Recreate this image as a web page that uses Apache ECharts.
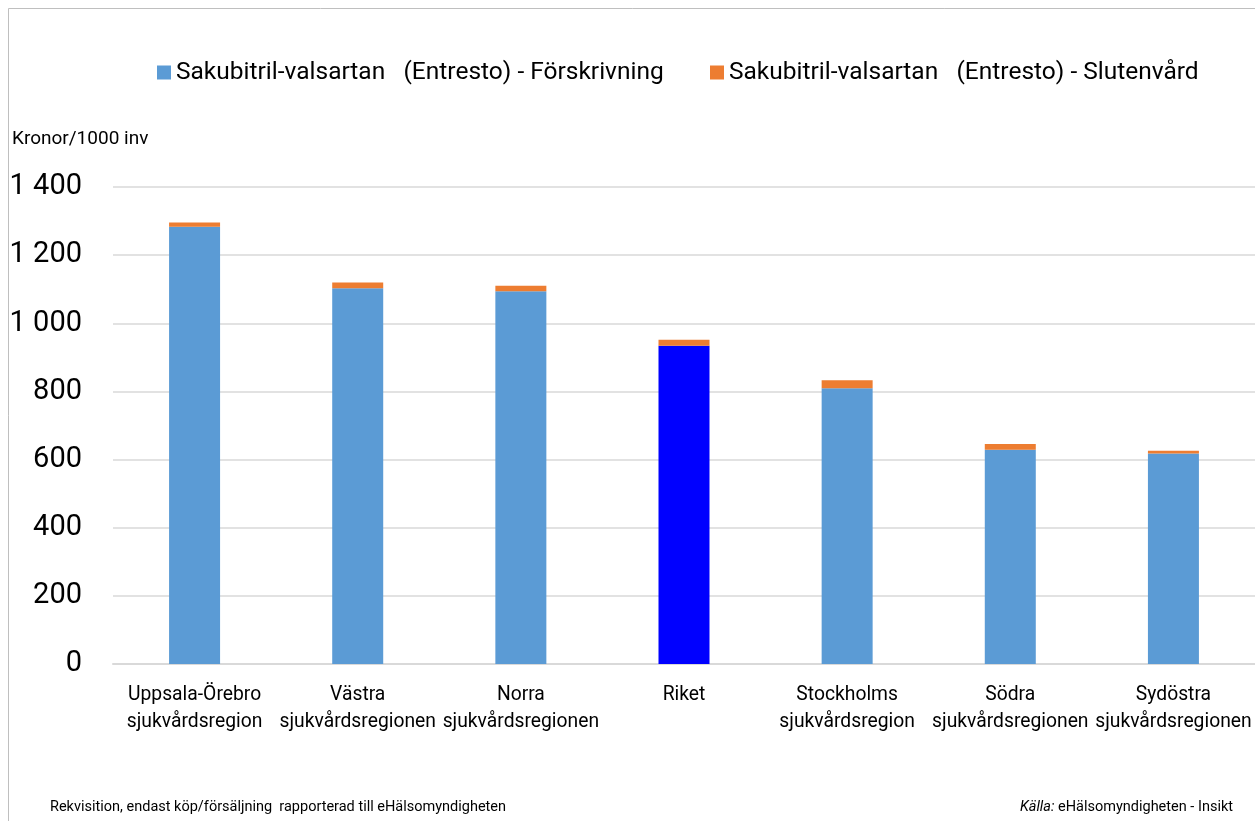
<!DOCTYPE html>
<html>
<head>
<meta charset="utf-8">
<script src="https://cdn.jsdelivr.net/npm/echarts@6/dist/echarts.min.js"></script>
<style>
  html, body { margin: 0; padding: 0; background: #fff; }
  #chart { width: 1255px; height: 821px; }
</style>
</head>
<body>
<div id="chart"></div>
<script>
const FONT = '"Roboto", sans-serif'

// regions (x-axis)
const categories = [
    'Uppsala-Örebro\nsjukvårdsregion',
    'Västra\nsjukvårdsregionen',
    'Norra\nsjukvårdsregionen',
    'Riket',
    'Stockholms\nsjukvårdsregion',
    'Södra\nsjukvårdsregionen',
    'Sydöstra\nsjukvårdsregionen'
]
// kronor / 1000 inv
const forskrivning = [1283, 1103, 1094, 934, 809, 629, 618]
const slutenvard = [13, 17, 16, 18, 24, 17, 8]
const yTicks = [0, 200, 400, 600, 800, 1000, 1200, 1400]

const seriesNames = [
    'Sakubitril-valsartan   (Entresto) - Förskrivning',
    'Sakubitril-valsartan   (Entresto) - Slutenvård'
]

function fmt(v){
    return String(v).replace(/\B(?=(\d{3})+(?!\d))/g, ' ')
}

const chart = echarts.init(document.getElementById('chart'))

let option = {
    animation: false,
    textStyle: { fontFamily: FONT },
    grid: { left: 113, right: 0, top: 187, bottom: 157 },
    legend: [
        {
            data: [seriesNames[0]],
            left: 152, top: 55,
            itemWidth: 14, itemHeight: 14, itemGap: 6,
            icon: 'rect',
            textStyle: { fontSize: 24.5, color: '#000', fontFamily: FONT }
        },
        {
            data: [seriesNames[1]],
            left: 705, top: 55,
            itemWidth: 14, itemHeight: 14, itemGap: 6,
            icon: 'rect',
            textStyle: { fontSize: 24.5, color: '#000', fontFamily: FONT }
        }
    ],
    xAxis: {
        type: 'category',
        data: categories,
        axisTick: { show: false },
        axisLine: { lineStyle: { color: '#d9d9d9', width: 2 } },
        axisLabel: {
            interval: 0,
            margin: 18,
            color: '#000',
            fontSize: 19.3,
            lineHeight: 27,
            fontFamily: FONT
        }
    },
    yAxis: {
        type: 'value',
        min: yTicks[0],
        max: yTicks[yTicks.length - 1],
        interval: 200,
        axisLine: { show: false },
        axisTick: { show: false },
        splitLine: { lineStyle: { color: '#d9d9d9', width: 1.5 } },
        axisLabel: {
            margin: 31,
            color: '#000',
            fontSize: 29,
            fontFamily: FONT,
            formatter: fmt
        }
    },
    series: [
        {
            name: seriesNames[0],
            type: 'bar',
            stack: 'total',
            barWidth: 51,
            itemStyle: { color: '#5b9bd5' },
            data: forskrivning.map((v, i) => {
                if (categories[i] === 'Riket') {
                    return { value: v, itemStyle: { color: '#0000ff' } }
                }
                return v
            })
        },
        {
            name: seriesNames[1],
            type: 'bar',
            stack: 'total',
            barWidth: 51,
            itemStyle: { color: '#ed7d31' },
            data: slutenvard
        }
    ],
    graphic: [
        {
            type: 'rect',
            shape: { x: 8.5, y: 8.5, width: 1300, height: 900 },
            style: { fill: 'none', stroke: '#bfbfbf', lineWidth: 1 },
            silent: true
        },
        {
            type: 'text', left: 12, top: 130,
            style: { text: 'Kronor/1000 inv', fontSize: 19, fill: '#000', fontFamily: FONT }
        },
        {
            type: 'text', left: 50, top: 800,
            style: { text: 'Rekvisition, endast köp/försäljning  rapporterad till eHälsomyndigheten', fontSize: 14.5, fill: '#000', fontFamily: FONT }
        },
        {
            type: 'text', right: 22, top: 800,
            style: {
                text: '{i|Källa:} eHälsomyndigheten - Insikt',
                fontSize: 14.5, fill: '#000', fontFamily: FONT,
                rich: { i: { fontStyle: 'italic', fontSize: 14.5, fontFamily: FONT } }
            }
        }
    ]
}

chart.setOption(option, true)
</script>
</body>
</html>
